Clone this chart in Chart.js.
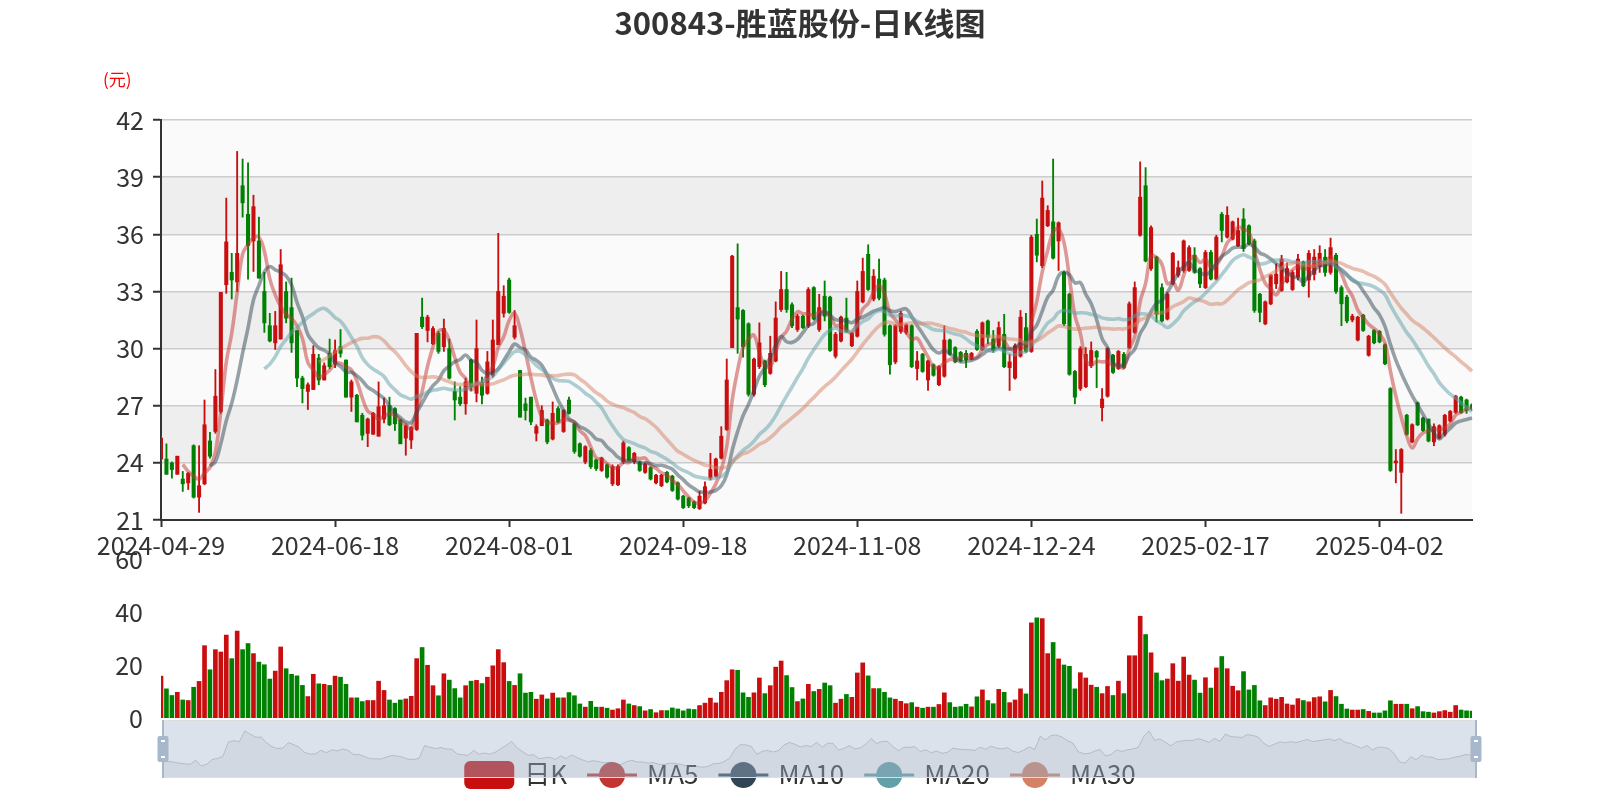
<!DOCTYPE html>
<html><head><meta charset="utf-8">
<script src="https://cdn.jsdelivr.net/npm/chart.js@4.4.1/dist/chart.umd.min.js"></script>
<style>
html,body{margin:0;padding:0;background:#fff;}
#wrap{position:relative;width:1600px;height:800px;overflow:hidden;}
#wrap canvas{position:absolute;left:0;top:0;}
</style></head><body>
<div id="wrap">
<canvas id="cMain" width="1600" height="800"></canvas>
<canvas id="cVol" width="1600" height="800"></canvas>
<canvas id="cZoom" width="1600" height="800"></canvas>
</div>
<script>
const titleText = '300843-胜蓝股份-日K线图';
const unitText = '(元)';
const dates = [
'2024-04-29','2024-04-30',
'2024-05-06','2024-05-07','2024-05-08','2024-05-09','2024-05-10','2024-05-13','2024-05-14','2024-05-15','2024-05-16','2024-05-17','2024-05-20','2024-05-21','2024-05-22','2024-05-23','2024-05-24','2024-05-27','2024-05-28','2024-05-29','2024-05-30','2024-05-31',
'2024-06-03','2024-06-04','2024-06-05','2024-06-06','2024-06-07','2024-06-11','2024-06-12','2024-06-13','2024-06-14','2024-06-17','2024-06-18','2024-06-19','2024-06-20','2024-06-21','2024-06-24','2024-06-25','2024-06-26','2024-06-27','2024-06-28',
'2024-07-01','2024-07-02','2024-07-03','2024-07-04','2024-07-05','2024-07-08','2024-07-09','2024-07-10','2024-07-11','2024-07-12','2024-07-15','2024-07-16','2024-07-17','2024-07-18','2024-07-19','2024-07-22','2024-07-23','2024-07-24','2024-07-25','2024-07-26','2024-07-29','2024-07-30','2024-07-31',
'2024-08-01','2024-08-02','2024-08-05','2024-08-06','2024-08-07','2024-08-08','2024-08-09','2024-08-12','2024-08-13','2024-08-14','2024-08-15','2024-08-16','2024-08-19','2024-08-20','2024-08-21','2024-08-22','2024-08-23','2024-08-26','2024-08-27','2024-08-28','2024-08-29','2024-08-30',
'2024-09-02','2024-09-03','2024-09-04','2024-09-05','2024-09-06','2024-09-09','2024-09-10','2024-09-11','2024-09-12','2024-09-13','2024-09-18','2024-09-19','2024-09-20','2024-09-23','2024-09-24','2024-09-25','2024-09-26','2024-09-27','2024-09-30',
'2024-10-08','2024-10-09','2024-10-10','2024-10-11','2024-10-14','2024-10-15','2024-10-16','2024-10-17','2024-10-18','2024-10-21','2024-10-22','2024-10-23','2024-10-24','2024-10-25','2024-10-28','2024-10-29','2024-10-30','2024-10-31',
'2024-11-01','2024-11-04','2024-11-05','2024-11-06','2024-11-07','2024-11-08','2024-11-11','2024-11-12','2024-11-13','2024-11-14','2024-11-15','2024-11-18','2024-11-19','2024-11-20','2024-11-21','2024-11-22','2024-11-25','2024-11-26','2024-11-27','2024-11-28','2024-11-29',
'2024-12-02','2024-12-03','2024-12-04','2024-12-05','2024-12-06','2024-12-09','2024-12-10','2024-12-11','2024-12-12','2024-12-13','2024-12-16','2024-12-17','2024-12-18','2024-12-19','2024-12-20','2024-12-23','2024-12-24','2024-12-25','2024-12-26','2024-12-27','2024-12-30','2024-12-31',
'2025-01-02','2025-01-03','2025-01-06','2025-01-07','2025-01-08','2025-01-09','2025-01-10','2025-01-13','2025-01-14','2025-01-15','2025-01-16','2025-01-17','2025-01-20','2025-01-21','2025-01-22','2025-01-23','2025-01-24','2025-01-27',
'2025-02-05','2025-02-06','2025-02-07','2025-02-10','2025-02-11','2025-02-12','2025-02-13','2025-02-14','2025-02-17','2025-02-18','2025-02-19','2025-02-20','2025-02-21','2025-02-24','2025-02-25','2025-02-26','2025-02-27','2025-02-28',
'2025-03-03','2025-03-04','2025-03-05','2025-03-06','2025-03-07','2025-03-10','2025-03-11','2025-03-12','2025-03-13','2025-03-14','2025-03-17','2025-03-18','2025-03-19','2025-03-20','2025-03-21','2025-03-24','2025-03-25','2025-03-26','2025-03-27','2025-03-28','2025-03-31',
'2025-04-01','2025-04-02','2025-04-03','2025-04-07','2025-04-08','2025-04-09','2025-04-10','2025-04-11','2025-04-14','2025-04-15','2025-04-16','2025-04-17','2025-04-18','2025-04-21','2025-04-22','2025-04-23','2025-04-24','2025-04-25','2025-04-28'
];
const openP = [
24.2,24.2,24.0,23.4,23.15,22.95,24.9,22.2,22.9,25.15,
25.65,26.7,33.35,34.0,33.5,38.55,37.05,35.65,35.65,33.0,
31.2,30.3,30.5,33.0,32.15,30.95,28.45,27.75,27.85,29.5,
28.35,29.75,29.2,30.1,29.4,27.45,27.55,26.5,25.55,25.5,
25.4,26.3,27.0,26.85,26.25,25.3,25.2,25.75,31.65,30.95,
30.25,30.8,30.1,30.0,27.75,27.45,27.1,29.4,27.65,28.2,
27.65,28.6,30.2,31.85,33.6,30.6,28.85,27.1,27.45,25.55,
25.95,26.25,25.25,26.85,25.65,27.3,26.05,25.0,24.05,24.65,
24.15,23.6,23.9,22.9,22.85,24.05,24.8,24.05,24.05,23.5,
23.75,22.95,22.8,23.5,23.3,22.95,22.25,22.15,21.95,21.6,
21.9,23.2,23.3,24.25,25.75,30.05,32.15,32.0,31.3,27.6,
29.05,29.35,28.7,29.35,32.05,33.1,32.3,31.0,31.7,31.2,
33.2,31.0,32.75,32.7,29.6,30.4,31.6,30.15,30.65,32.45,
34.95,32.6,33.65,33.6,31.2,29.3,30.9,30.85,31.2,28.95,
29.7,28.35,29.15,28.1,28.55,30.45,30.05,29.8,29.75,29.45,
30.9,29.95,31.45,30.5,30.15,30.75,29.0,28.45,29.6,31.1,
29.85,36.0,34.35,36.45,36.65,35.65,34.0,32.85,28.8,27.9,
28.0,29.1,29.85,26.9,27.5,29.65,28.95,29.7,30.05,30.85,
35.95,38.55,34.2,34.8,33.2,31.55,33.4,33.85,34.1,34.1,
34.9,34.2,33.2,35.05,33.65,37.05,35.85,35.75,35.4,36.8,
36.45,35.65,32.85,31.3,32.35,33.4,33.05,33.5,33.1,33.75,
34.55,33.6,33.9,34.3,34.8,34.0,34.9,33.2,32.7,31.5,
30.45,31.75,29.65,30.95,30.9,30.2,27.9,24.0,23.5,26.5,
25.1,27.15,26.35,26.3,25.1,25.3,25.5,26.2,26.65,27.45,
27.3,27.05];
const closeP = [
25.3,23.4,23.65,24.35,22.9,23.45,22.2,22.8,26.0,24.35,
27.5,32.95,35.6,33.6,35.0,37.65,35.4,37.45,33.7,31.35,
30.4,31.2,34.4,31.6,30.3,28.45,27.9,28.1,29.7,28.35,
29.1,29.05,29.9,29.75,27.45,28.25,26.15,25.45,26.3,26.6,
26.95,27.0,26.0,26.05,25.0,25.95,25.85,30.8,31.15,31.65,
31.05,29.85,31.05,28.45,27.3,27.1,28.25,28.0,30.0,27.55,
29.3,30.45,33.0,32.75,31.9,31.2,26.4,26.75,26.15,25.9,
26.75,25.1,26.6,26.15,26.75,26.6,24.6,24.35,24.85,23.8,
23.7,24.25,23.25,23.8,23.8,25.05,24.15,24.5,23.6,23.95,
23.15,23.35,23.35,23.0,22.55,22.1,21.65,21.75,21.65,22.25,
22.75,23.65,24.2,25.4,28.35,34.85,31.55,30.1,27.6,29.45,
30.3,28.1,29.75,31.6,33.1,32.05,31.2,31.7,31.1,33.1,
31.55,32.15,31.7,29.9,30.75,31.65,30.9,30.8,33.0,34.05,
33.1,33.8,32.65,30.75,29.15,31.2,31.85,31.25,29.05,29.35,
28.8,29.35,28.6,29.05,30.45,29.7,29.3,29.35,29.4,29.75,
29.95,31.35,30.6,29.9,31.1,29.05,29.3,30.15,31.65,29.85,
35.85,34.9,37.9,37.25,34.75,36.6,31.3,28.65,27.45,30.0,
29.7,29.9,29.55,27.35,30.0,28.75,29.85,29.0,32.35,33.2,
37.95,34.6,36.35,31.8,31.45,32.85,35.0,34.25,35.65,35.3,
34.0,33.4,35.05,33.65,35.85,36.2,37.0,36.65,36.2,35.25,
35.5,32.0,31.9,32.45,33.85,33.9,34.7,34.2,34.0,34.7,
33.3,35.0,34.8,35.0,34.0,35.3,33.0,32.35,31.45,31.7,
31.65,30.95,30.65,30.3,30.35,29.2,23.6,24.1,24.7,25.5,
26.0,26.0,25.7,25.15,25.9,25.95,26.5,26.7,27.5,26.65,
26.75,26.8];
const lowP = [
24.1,23.4,23.2,23.4,22.5,22.6,22.15,21.4,22.85,24.25,
25.55,26.6,32.9,32.6,33.0,36.9,33.65,34.05,33.7,30.85,
30.35,29.95,30.5,31.35,29.8,28.0,27.15,26.8,27.85,28.1,
28.35,28.95,29.0,29.55,27.45,26.7,26.15,25.2,24.85,25.5,
25.4,26.1,25.95,25.7,25.0,24.4,24.75,25.7,31.05,30.35,
30.2,29.75,29.85,28.4,26.25,27.0,26.55,27.8,27.2,27.1,
27.6,28.5,30.2,31.65,31.85,30.5,26.4,26.25,26.0,25.15,
25.95,25.0,25.2,26.1,25.6,26.55,24.5,24.3,23.95,23.7,
23.6,23.55,23.2,22.8,22.8,23.95,24.1,23.95,23.55,23.45,
23.1,22.9,22.75,22.95,22.5,22.05,21.6,21.65,21.6,21.55,
21.85,23.1,23.25,24.2,25.7,30.05,29.75,29.55,27.5,27.5,
28.95,28.0,28.65,29.3,31.95,31.9,31.1,30.9,31.05,31.1,
31.5,30.9,31.45,29.85,29.5,30.35,30.85,30.1,30.6,32.4,
33.05,32.5,32.55,30.65,28.65,29.2,30.8,30.75,29.0,28.35,
28.75,27.8,28.55,28.05,28.5,29.65,29.25,29.3,29.0,29.4,
29.9,29.9,30.25,29.8,30.05,29.0,27.8,28.4,29.55,29.8,
29.8,34.55,34.25,36.4,34.7,34.1,31.2,28.6,27.1,27.8,
27.95,29.0,27.95,26.2,27.45,28.7,28.9,28.95,30.0,30.8,
35.9,34.55,34.1,31.4,31.4,31.5,33.35,33.75,34.0,34.05,
33.95,33.2,33.15,33.6,33.6,35.6,35.8,35.7,35.35,35.1,
35.45,31.9,31.4,31.25,32.3,33.15,33.0,33.45,33.05,33.6,
33.25,32.7,33.6,34.0,33.8,33.9,32.9,31.2,31.35,31.4,
30.4,30.9,29.6,30.25,30.3,29.15,23.55,22.95,21.35,25.45,
25.05,25.95,25.65,25.1,24.9,25.25,25.4,26.15,26.6,26.6,
26.6,26.75];
const highP = [
25.4,25.0,24.05,24.35,23.55,23.5,24.95,24.9,27.3,25.6,
28.9,32.95,37.9,35.0,40.35,39.95,39.75,38.05,36.9,34.0,
31.85,31.95,35.2,33.5,33.7,30.95,28.55,28.2,30.15,29.7,
29.25,30.5,30.45,31.0,29.4,28.35,27.6,26.6,26.35,26.65,
28.25,27.4,27.45,26.9,26.3,26.0,25.9,30.8,32.65,31.75,
31.15,30.9,31.55,30.5,28.25,28.0,28.45,29.45,31.5,28.5,
29.85,31.5,36.05,33.3,33.7,32.0,28.85,27.4,27.45,26.0,
27.0,26.3,27.2,26.95,26.8,27.45,26.1,25.05,24.9,24.75,
24.2,24.3,23.95,23.9,23.9,25.15,24.85,24.55,24.1,24.0,
23.8,23.4,23.4,23.55,23.35,23.0,22.3,22.2,22.0,22.5,
23.0,24.5,24.25,25.9,29.45,34.9,35.5,32.05,31.35,29.5,
31.35,29.4,30.65,32.45,34.05,34.0,32.4,31.8,31.75,33.2,
33.25,32.85,33.55,32.75,30.85,31.7,32.65,30.85,33.55,34.75,
35.45,34.15,34.7,33.7,31.25,31.25,31.95,31.3,31.25,29.85,
29.75,29.4,29.2,29.1,31.2,30.5,30.1,29.85,29.9,29.8,
31.0,31.4,31.5,30.95,31.4,31.8,29.7,30.25,32.0,31.85,
35.95,36.8,38.8,37.5,39.95,36.65,34.05,32.9,28.85,30.1,
30.05,30.35,29.9,27.9,30.05,29.7,29.9,29.8,32.45,33.5,
39.8,39.5,36.45,34.85,33.4,32.95,35.05,34.6,35.7,35.4,
35.3,34.25,35.15,35.15,35.95,37.15,37.45,36.7,36.85,37.35,
36.5,35.75,32.9,32.5,33.9,34.45,34.9,34.5,34.1,34.95,
34.6,35.15,35.2,35.4,35.2,35.8,35.0,33.3,32.8,31.8,
31.7,31.8,30.7,31.0,30.95,30.25,27.95,24.7,24.75,26.55,
26.05,27.2,26.4,26.3,26.05,26.0,26.55,26.75,27.55,27.5,
27.35,27.1];
const volumes = [
15.8,11.0,8.5,9.7,6.8,6.6,11.6,13.8,27.3,18.2,
25.8,24.9,31.3,22.4,32.8,25.8,28.1,24.3,21.1,20.1,
14.7,17.7,26.8,18.6,16.5,15.9,12.3,8.1,16.5,12.9,
12.7,12.3,15.8,15.4,12.7,7.6,7.6,6.2,6.6,6.6,
13.9,10.4,6.8,5.6,6.8,7.2,8.2,22.4,26.6,19.9,
12.2,8.4,16.7,14.3,11.1,7.6,12.2,13.9,14.2,13.0,
15.4,19.7,25.8,20.9,13.8,12.3,16.7,9.4,9.7,7.1,
8.7,7.2,9.4,7.6,7.6,9.6,8.4,5.3,4.1,6.3,
4.1,4.1,3.7,3.0,3.5,6.8,5.3,4.7,4.3,2.7,
3.2,2.0,2.8,2.8,3.8,3.4,2.7,3.4,3.2,4.7,
5.6,7.5,5.7,9.7,14.1,18.2,18.0,9.5,7.8,9.5,
15.1,9.2,12.2,19.2,21.5,16.0,11.5,6.2,7.2,12.7,
10.0,10.8,13.2,12.2,5.6,7.1,8.9,7.8,17.0,20.8,
15.9,11.1,11.1,9.7,7.6,7.1,6.3,5.4,5.8,4.1,
3.7,4.1,4.1,5.1,9.5,5.8,4.1,4.3,5.2,4.2,
8.0,10.6,6.6,5.4,10.8,9.7,5.8,6.8,11.0,9.1,
35.9,37.8,37.5,24.3,28.5,22.3,20.0,19.5,11.0,17.1,
15.1,12.4,11.6,9.2,11.9,8.5,13.9,9.2,23.5,23.5,
38.4,31.5,24.6,17.0,14.1,14.7,20.5,13.9,23.0,16.2,
14.3,9.4,15.2,11.3,18.9,23.2,18.6,12.0,10.3,17.5,
10.6,12.3,6.5,4.7,7.6,7.1,7.8,5.3,4.9,7.3,
6.6,6.1,7.7,8.0,6.1,10.4,8.1,5.2,3.4,3.0,
3.0,3.2,2.5,1.9,1.9,2.7,6.5,5.2,5.2,5.2,
3.5,4.3,2.4,2.2,1.9,2.4,2.8,2.2,4.7,3.0,
2.7,2.6];
const maPeriods = [5, 10, 20, 30];
const legendNames = ['日K', 'MA5', 'MA10', 'MA20', 'MA30'];
const priceMin = 21, priceMax = 42, priceStep = 3;
const volMin = 0, volMax = 60, volStep = 20;
const labelInterval = 32;

const FONT = '"Noto Sans CJK SC","Noto Sans",sans-serif';
Chart.defaults.font.family = FONT;
const RED = '#c80e0e', GREEN = '#008000';
const maColors = ['#c23531', '#2f4554', '#61a0a8', '#d48265'];
function hexA(h, a){ const n=parseInt(h.slice(1),16); return `rgba(${n>>16&255},${n>>8&255},${n&255},${a})`; }

const candleColors = closeP.map((c,i)=> c >= openP[i] ? RED : GREEN);
function movingAverage(n){
  return closeP.map((_,i)=>{
    if (i < n-1) return null;
    let s=0; for(let k=i-n+1;k<=i;k++) s+=closeP[k];
    return s/n;
  });
}

const bandsPlugin = {
  id:'bands',
  beforeDraw(chart){
    const {ctx, chartArea:a, scales:{y}} = chart;
    ctx.save();
    let idx = 0;
    for (let v = priceMin; v < priceMax; v += priceStep, idx++){
      const y1 = y.getPixelForValue(v), y2 = y.getPixelForValue(v+priceStep);
      ctx.fillStyle = idx % 2 === 0 ? '#fafafa' : '#eeeeee';
      ctx.fillRect(a.left, y2, a.right-a.left, y1-y2);
    }
    ctx.restore();
  }
};
const titlePlugin = {
  id:'titles',
  afterDraw(chart){
    const ctx = chart.ctx;
    ctx.save();
    ctx.fillStyle = '#333';
    ctx.font = 'bold 31px ' + FONT;
    ctx.textAlign = 'center'; ctx.textBaseline = 'middle';
    ctx.fillText(titleText, 800, 23);
    ctx.fillStyle = '#ff0000';
    ctx.font = '17px ' + FONT;
    ctx.textAlign = 'left';
    ctx.fillText(unitText, 103, 80);
    ctx.restore();
  }
};

new Chart(document.getElementById('cMain'), {
  type:'bar',
  data:{
    labels: dates,
    datasets:[
      ...maPeriods.map((p,k)=>({
        type:'line', label:'MA'+p, data: movingAverage(p),
        borderColor: hexA(maColors[k],0.5), borderWidth:3.6, pointRadius:0,
        tension:0.4, spanGaps:false, fill:false, order: 3-k
      })),
      { label:'body', data: openP.map((o,i)=>[o, closeP[i]]), backgroundColor: candleColors,
        barThickness:3.4, grouped:false, minBarLength:1, order:4 },
      { label:'wick', data: lowP.map((l,i)=>[l, highP[i]]), backgroundColor: candleColors,
        barThickness:1.2, grouped:false, order:5 }
    ]
  },
  options:{
    responsive:false, animation:false, events:[],
    layout:{ padding:{left:0,right:128,top:120,bottom:0}, autoPadding:false },
    plugins:{ legend:{display:false}, tooltip:{enabled:false}, title:{display:false} },
    scales:{
      x:{
        offset:false,
        grid:{ offset:false, drawOnChartArea:false, drawTicks:true, tickLength:7, tickColor:'#333', tickWidth:2 },
        border:{ display:true, color:'#333', width:2 },
        ticks:{ autoSkip:false, maxRotation:0, minRotation:0, color:'#333', font:{size:25}, padding:3 },
        afterBuildTicks: s => { s.ticks = s.ticks.filter(t => t.value % labelInterval === 0); },
        afterFit: s => { s.height = 280; }
      },
      y:{
        min: priceMin, max: priceMax,
        ticks:{ stepSize: priceStep, color:'#333', font:{size:25}, padding:9 },
        grid:{ color:'#cccccc', lineWidth:1.5, tickColor:'#333', tickLength:8, drawTicks:true, tickWidth:2 },
        border:{ display:true, color:'#333', width:2 },
        afterFit: s => { s.width = 161; }
      }
    }
  },
  plugins:[bandsPlugin, titlePlugin]
});

const legendPlugin = {
  id:'kLegend',
  afterDraw(chart){
    const ctx = chart.ctx;
    ctx.save();
    ctx.font = '26px ' + FONT;
    const iconW = 50, gapText = 10, itemGap = 20, cy = 775;
    const widths = legendNames.map(n => iconW + gapText + ctx.measureText(n).width);
    const total = widths.reduce((a,b)=>a+b,0) + itemGap*(legendNames.length-1);
    let x = 800 - total/2;
    legendNames.forEach((name, i) => {
      if (i === 0){
        ctx.fillStyle = RED;
        ctx.beginPath(); ctx.roundRect(x, cy-14, iconW, 28, 6); ctx.fill();
      } else {
        const c = maColors[i-1];
        ctx.strokeStyle = c; ctx.lineWidth = 3;
        ctx.beginPath(); ctx.moveTo(x, cy); ctx.lineTo(x+iconW, cy); ctx.stroke();
        ctx.fillStyle = c;
        ctx.beginPath(); ctx.arc(x+iconW/2, cy, 13, 0, Math.PI*2); ctx.fill();
      }
      ctx.fillStyle = '#333'; ctx.textAlign = 'left'; ctx.textBaseline = 'middle';
      ctx.fillText(name, x + iconW + gapText, cy - 1);
      x += widths[i] + itemGap;
    });
    ctx.restore();
  }
};

new Chart(document.getElementById('cVol'), {
  type:'bar',
  data:{ labels: dates, datasets:[{ label:'成交量', data: volumes, backgroundColor: candleColors, barThickness:4, borderWidth:0 }] },
  options:{
    responsive:false, animation:false, events:[],
    layout:{ padding:{left:0,right:128,top:559,bottom:82}, autoPadding:false },
    plugins:{ legend:{display:false}, tooltip:{enabled:false} },
    scales:{
      x:{ display:false, offset:false, grid:{offset:false} },
      y:{ min: volMin, max: volMax, ticks:{ stepSize: volStep, color:'#333', font:{size:25}, padding:10 },
          grid:{ display:false, drawTicks:true, tickLength:8 }, border:{ display:false },
          afterFit: s => { s.width = 161; } }
    }
  },
  plugins:[legendPlugin]
});

const shMin = Math.min(...openP), shMax = Math.max(...openP), shPad = (shMax - shMin) * 0.3;
const sliderPlugin = {
  id:'slider',
  afterDatasetsDraw(chart){
    const {ctx, chartArea:a} = chart;
    ctx.save();
    ctx.fillStyle = 'rgba(167,183,204,0.4)';
    ctx.fillRect(a.left, a.top, a.right-a.left, a.bottom-a.top);
    ctx.strokeStyle = '#dddddd'; ctx.lineWidth = 1;
    ctx.strokeRect(a.left+0.5, a.top+0.5, a.right-a.left-1, a.bottom-a.top-1);
    const mid = (a.top + a.bottom)/2;
    [a.left, a.right].forEach(ex => {
      ctx.strokeStyle = '#a7b7cc'; ctx.lineWidth = 2;
      ctx.beginPath(); ctx.moveTo(ex, a.top); ctx.lineTo(ex, a.bottom); ctx.stroke();
      ctx.fillStyle = '#a7b7cc';
      ctx.beginPath(); ctx.roundRect(ex-5.5, mid-13, 11, 26, 2); ctx.fill();
      ctx.fillStyle = '#ffffff';
      ctx.fillRect(ex-2, mid-9, 4, 2);
      ctx.fillRect(ex-2, mid+7, 4, 2);
    });
    ctx.restore();
  }
};
new Chart(document.getElementById('cZoom'), {
  type:'line',
  data:{ labels: dates, datasets:[{ label:'shadow', data: openP, borderColor:'rgba(47,69,84,0.3)', borderWidth:1,
     pointRadius:0, tension:0, fill:'start', backgroundColor:'rgba(47,69,84,0.09)' }] },
  options:{
    responsive:false, animation:false, events:[],
    layout:{ padding:{left:163,right:124,top:720,bottom:22}, autoPadding:false },
    plugins:{ legend:{display:false}, tooltip:{enabled:false} },
    scales:{ x:{display:false, offset:false}, y:{display:false, min: shMin - shPad, max: shMax + shPad} }
  },
  plugins:[sliderPlugin]
});
</script>
</body></html>
